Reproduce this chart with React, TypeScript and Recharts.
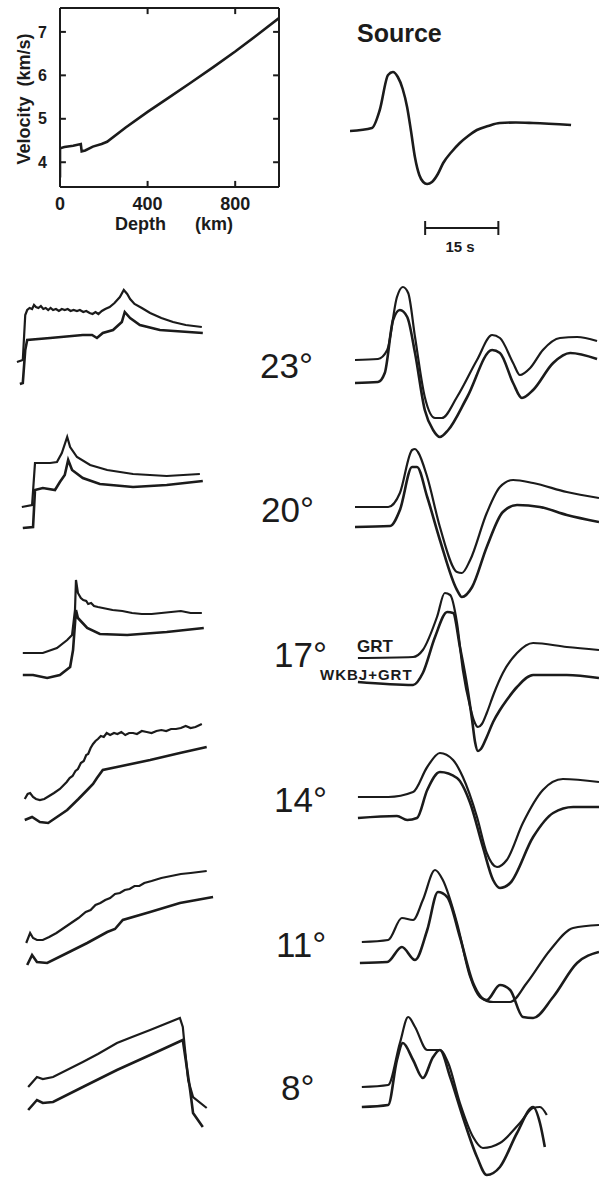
import { LineChart, Line, XAxis, YAxis, ReferenceLine } from 'recharts';

type Pt = [number, number];

const INK = '#1b1b1b';
const FONT = '"Liberation Sans", Arial, sans-serif';

// velocity model: depth (km) / velocity (km/s)
const depthKm = [0, 0, 20, 60, 95, 99, 115, 150, 190, 215, 300, 400, 500, 600, 700, 800, 900, 1000];
const velocityKms = [3.65, 4.32, 4.35, 4.38, 4.42, 4.25, 4.27, 4.36, 4.42, 4.47, 4.8, 5.16, 5.5, 5.84, 6.19, 6.55, 6.93, 7.32];
const depthTicks = [0, 400, 800];
const velocityTicks = [4, 5, 6, 7];
const DEPTH_MAX = 1000;
const VEL_MIN = 3.43;
const VEL_MAX = 7.55;

// source wavelet: time (s) / amplitude
const sourceWave: Pt[] = [[0, 0], [4.5, 3], [6.1, 21], [7.8, 56], [8.8, 59], [9.8, 54], [10.8, 42], [11.7, 24], [12.5, 0], [13.3, -26], [14.2, -44], [15.0, -51], [15.8, -53], [16.8, -51], [18.0, -43], [19.1, -32], [20.8, -21], [22.5, -12], [24.2, -5], [26.0, 1], [28.3, 5], [30.7, 8], [34, 8.5], [37.5, 8], [45.3, 6]];
const scaleBarSec = [15.4, 30.4];

// left column: responses (GRT above, WKBJ+GRT below)
const resp23Grt: Pt[] = [[0.4, -2], [1.6, 0], [2.1, 45], [2.5, 50], [3.0, 52], [3.5, 51], [3.9, 55], [4.3, 53], [4.8, 52], [5.3, 54], [5.8, 51], [6.3, 52], [6.8, 50], [7.3, 52], [7.8, 50], [8.4, 51], [9.0, 49], [9.6, 51], [10.2, 50], [10.8, 51], [11.4, 49], [12.0, 50], [12.7, 49], [13.3, 50], [14.0, 48], [14.6, 49], [15.3, 47], [15.9, 46], [16.5, 48], [17.1, 46], [17.8, 49], [18.5, 51], [19.4, 53], [20.4, 57], [21.5, 63], [22.3, 70], [23.0, 66], [23.6, 61], [24.5, 56], [26.0, 52], [27.7, 47], [30.0, 42], [32.4, 38], [35.0, 35], [38.3, 33]];
const resp23Wkbj: Pt[] = [[1.0, -24], [1.6, -23], [2.1, 10], [2.5, 20], [7.2, 22], [13.9, 25], [15.8, 25], [16.8, 22], [18.0, 27], [20.1, 30], [21.9, 38], [22.5, 48], [23.6, 42], [25.6, 35], [29.7, 30], [38.5, 27]];
const resp20Grt: Pt[] = [[1.4, 0], [3.5, 2], [4.1, 44], [7.2, 44], [8.6, 45], [9.6, 54], [10.7, 70], [11.3, 60], [12.7, 50], [15.4, 42], [18.9, 37], [24.2, 33], [31.1, 31], [37.9, 33]];
const resp20Wkbj: Pt[] = [[1.6, -21], [3.7, -20], [4.1, 17], [5.7, 19], [8.2, 17], [9.2, 25], [10.2, 32], [10.9, 47], [11.7, 37], [13.9, 29], [17.4, 23], [24.2, 20], [31.1, 22], [38.5, 26]];
const resp17Grt: Pt[] = [[1.6, 0], [5.7, 0], [8.6, 5], [10.7, 13], [11.7, 18], [12.3, 43], [12.5, 73], [12.9, 60], [13.5, 55], [14.0, 53], [14.6, 52], [15.0, 49], [15.6, 50], [16.2, 47], [17, 46], [18, 45], [19, 44], [20, 43], [22, 42], [24, 40], [26, 39], [28, 39], [30, 40], [32, 41], [34, 42], [36, 40], [38.3, 40]];
const resp17Wkbj: Pt[] = [[1.6, -22], [3.7, -22], [6.6, -25], [9.2, -22], [11.3, -14], [11.9, 3], [12.5, 43], [12.9, 35], [14.8, 25], [17.4, 19], [23.0, 18], [31.1, 21], [38.7, 25]];
const resp14Grt: Pt[] = [[2.0, 0], [2.6, 5], [3.1, 6], [3.7, 2], [4.3, 0], [5.1, -1], [6.0, 0], [7.0, 3], [8.0, 6], [9.2, 10], [10.0, 14], [10.6, 17], [11.2, 21], [11.8, 23], [12.4, 28], [12.9, 30], [13.5, 36], [14.1, 38], [14.6, 44], [15.0, 45], [15.5, 51], [16.0, 55], [16.5, 58], [17.0, 60], [17.6, 63], [18.2, 62], [18.8, 66], [19.5, 64], [20.3, 66], [21.0, 65], [21.8, 67], [22.6, 64], [23.4, 66], [24.2, 66], [25.0, 65], [26.0, 68], [27.0, 67], [28.0, 66], [29.0, 68], [30.0, 69], [31.0, 68], [32.0, 70], [33.0, 70], [34.0, 71], [35.0, 73], [36.0, 71], [37.0, 72], [38.3, 75]];
const resp14Wkbj: Pt[] = [[2.0, -21], [3.5, -18], [5.1, -23], [6.8, -24], [10.7, -11], [13.0, 0], [14.8, 9], [16.0, 15], [16.8, 21], [18.0, 29], [20.9, 32], [27.7, 39], [33.8, 46], [39.3, 52]];
const resp11Grt: Pt[] = [[2.3, 0], [3.1, 10], [3.7, 5], [4.5, 3], [5.7, 3], [7, 6], [8.5, 10], [10, 15], [11.5, 20], [13, 25], [14.5, 31], [15.5, 33], [16.5, 38], [17.5, 40], [18.5, 43], [19.5, 45], [20.5, 49], [21.5, 50], [22.5, 53], [23.5, 54], [24.5, 57], [25.5, 57], [26.5, 60], [28, 62], [30, 65], [32, 67], [34, 69], [36, 70], [39.3, 72]];
const resp11Wkbj: Pt[] = [[2.5, -22], [3.5, -12], [4.5, -19], [6.6, -20], [10.7, -10], [14.8, 0], [18.9, 11], [20.5, 14], [22.1, 23], [27.7, 31], [33.8, 40], [40.6, 46]];
const resp8Grt: Pt[] = [[2.7, 0], [4.5, 10], [5.7, 8], [7.8, 10], [13.9, 25], [17, 33], [20.9, 44], [24, 50], [27.7, 57], [33.8, 69], [34.4, 60], [34.8, 40], [35.5, 7], [36.5, -10], [39.3, -21]];
const resp8Wkbj: Pt[] = [[2.7, -23], [4.5, -13], [5.7, -16], [7.8, -15], [13.9, 0], [20.9, 17], [27.7, 32], [34.4, 47], [35.0, 27], [35.9, -3], [36.5, -26], [38.5, -40]];

// right column: seismograms, time (s) / amplitude
const wave23Grt: Pt[] = [[0, 0], [4.7, 1], [6.6, 10], [8.6, 63], [9.8, 73], [10.9, 67], [12.3, 23], [14.3, -37], [16.4, -58], [17.8, -58], [20.9, -37], [25.0, 0], [28.1, 25], [29.7, 22], [32.4, -3], [33.8, -15], [35.9, -8], [38.5, 10], [42.0, 22], [45.5, 23], [49.6, 19]];
const wave23Wkbj: Pt[] = [[0, -23], [4.7, -22], [6.1, -13], [7.8, 40], [9.2, 50], [10.7, 43], [12.3, 7], [14.3, -50], [16.0, -70], [17.4, -77], [19.1, -70], [23.0, -37], [28.1, 10], [29.7, 7], [32.4, -23], [34.2, -38], [36.5, -30], [40.6, -3], [44.1, 7], [49.6, 1]];
const wave20Grt: Pt[] = [[0, 0], [6.8, 0], [9.2, 14], [11.7, 57], [12.3, 58], [12.9, 55], [14.8, 30], [17.4, -20], [20.9, -65], [21.9, -66], [23.6, -53], [27.0, -6], [29.7, 20], [32.4, 27], [36.5, 24], [43.4, 15], [50.0, 9]];
const wave20Wkbj: Pt[] = [[0, -20], [7.2, -19], [9.2, -3], [11.7, 40], [12.7, 40], [14.8, 10], [17.4, -33], [20.9, -83], [21.9, -90], [24.0, -80], [27.0, -40], [30.3, -5], [33.2, 2], [37.9, 0], [43.4, -8], [50.0, -15]];
const wave17Grt: Pt[] = [[0.6, 0], [11.9, 1], [13.9, 8], [16.8, 41], [18.4, 65], [19.5, 63], [20.9, 35], [22.1, -12], [23.6, -49], [24.4, -63], [25.2, -69], [26.0, -66], [27.0, -55], [28.5, -35], [30.3, -15], [33.2, 5], [36.5, 15], [43.4, 11], [50.0, 8]];
const wave17Wkbj: Pt[] = [[0.6, -24], [11.9, -27], [13.9, -15], [16.4, 21], [18.9, 46], [20.1, 45], [21.5, 11], [23.0, -29], [24.0, -62], [24.6, -84], [25.2, -93], [25.8, -91], [27.0, -79], [28.3, -64], [29.7, -52], [31.1, -42], [33.2, -29], [36.5, -17], [43.4, -17], [50.0, -20]];
const wave14Grt: Pt[] = [[0.6, 0], [6.8, 0], [11.9, 5], [14.8, 30], [17.4, 44], [20.1, 37], [22.1, 20], [25.0, -20], [27.0, -56], [29.1, -70], [31.1, -63], [34.4, -26], [38.5, 7], [42.6, 18], [50.0, 15]];
const wave14Wkbj: Pt[] = [[0.6, -21], [8.6, -19], [10.7, -23], [12.7, -21], [14.8, 7], [17.4, 25], [20.9, 19], [23.6, -6], [26.2, -50], [28.3, -83], [29.7, -91], [31.8, -86], [36.5, -40], [40.6, -16], [44.7, -10], [50.0, -10]];
const wave11Grt: Pt[] = [[1.4, -1], [6.8, 1], [9.6, 23], [11.9, 21], [13.9, 41], [16.4, 71], [18.0, 61], [20.9, 18], [23.6, -36], [25.6, -56], [28.3, -61], [31.8, -61], [35.2, -42], [40.0, -9], [44.7, 13], [50.0, 16]];
const wave11Wkbj: Pt[] = [[1.0, -22], [6.6, -21], [9.6, -6], [12.3, -19], [14.8, 11], [17.0, 49], [18.9, 44], [21.5, 4], [24.2, -42], [27.0, -59], [29.7, -44], [31.8, -49], [34.4, -76], [36.5, -77], [40.6, -56], [45.5, -22], [50.0, -11]];
const wave8Grt: Pt[] = [[1.4, -1], [6.8, 1], [9.2, 43], [10.9, 69], [12.3, 59], [14.8, 36], [17.4, 36], [19.1, 23], [21.5, -17], [24.2, -51], [26.2, -62], [29.7, -57], [33.8, -37], [36.5, -22], [37.9, -21], [39.3, -29]];
const wave8Wkbj: Pt[] = [[1.4, -21], [6.8, -19], [8.6, 26], [9.8, 43], [11.9, 26], [13.9, 8], [16.0, 29], [17.4, 36], [19.5, 9], [22.1, -31], [25.0, -71], [27.0, -89], [29.7, -81], [33.2, -47], [36.5, -21], [37.9, -37], [38.9, -61]];

const degreeLabels = ['23°', '20°', '17°', '14°', '11°', '8°'];

// layout of each row (page pixels)
const rowLayout = [
  { leftRef: 360, rightRef: 360, labelX: 260, labelY: 378, resp: [resp23Grt, resp23Wkbj], wave: [wave23Grt, wave23Wkbj] },
  { leftRef: 507, rightRef: 507, labelX: 261, labelY: 522, resp: [resp20Grt, resp20Wkbj], wave: [wave20Grt, wave20Wkbj] },
  { leftRef: 653, rightRef: 658, labelX: 274, labelY: 667, resp: [resp17Grt, resp17Wkbj], wave: [wave17Grt, wave17Wkbj] },
  { leftRef: 799, rightRef: 797, labelX: 274, labelY: 812, resp: [resp14Grt, resp14Wkbj], wave: [wave14Grt, wave14Wkbj] },
  { leftRef: 943, rightRef: 941, labelX: 276, labelY: 957, resp: [resp11Grt, resp11Wkbj], wave: [wave11Grt, wave11Wkbj] },
  { leftRef: 1087, rightRef: 1086, labelX: 281, labelY: 1100, resp: [resp8Grt, resp8Wkbj], wave: [wave8Grt, wave8Wkbj] },
];

const toPts = (p: Pt[]) => p.map(([t, a]) => ({ t, a }));

const Y_TOP = 95;
const Y_BOT = -125;

function TracePanel(props: {
  left: number
  top: number
  width: number
  xMax: number
  traces: Pt[][]
  curve: 'linear' | 'monotone'
}) {
  const { left, top, width, xMax, traces, curve } = props;
  return (
    <div style={{ position: 'absolute', left, top }}>
      <LineChart width={width} height={Y_TOP - Y_BOT} margin={{ top: 0, right: 0, bottom: 0, left: 0 }}>
        <XAxis type="number" dataKey="t" domain={[0, xMax]} hide allowDataOverflow />
        <YAxis type="number" domain={[Y_BOT, Y_TOP]} hide allowDataOverflow />
        {traces.map((tr, i) => (
          <Line
            key={i}
            data={toPts(tr)}
            dataKey="a"
            type={curve}
            stroke={INK}
            strokeWidth={i === 0 ? 2.2 : 2.6}
            dot={false}
            isAnimationActive={false}
          />
        ))}
      </LineChart>
    </div>
  );
}

// inward tick length in data units (about 6 px)
const X_TICK = 27;
const Y_TICK = 0.14;

export default function App() {
  const velData = depthKm.map((d, i) => ({ d, v: velocityKms[i] }));
  const srcData = toPts(sourceWave);

  return (
    <div style={{ position: 'absolute', left: 0, top: 0, width: 599, height: 1180, background: '#fff', fontFamily: FONT, overflow: 'hidden' }}>
      {/* velocity model */}
      <div style={{ position: 'absolute', left: 0, top: 0 }}>
        <LineChart width={290} height={240} data={velData} margin={{ top: 8, right: 11, bottom: 11, left: 20 }}>
          <XAxis dataKey="d" type="number" domain={[0, DEPTH_MAX]} ticks={depthTicks} allowDataOverflow
            height={42} tickLine={false} tickSize={0} tickMargin={10} stroke={INK} strokeWidth={2}
            tick={{ fill: INK, fontSize: 18, fontWeight: 700 }} />
          <YAxis type="number" domain={[VEL_MIN, VEL_MAX]} ticks={velocityTicks} allowDataOverflow
            width={40} tickLine={false} tickSize={0} tickMargin={13} stroke={INK} strokeWidth={2}
            tick={{ fill: INK, fontSize: 16, fontWeight: 700 }} />
          <ReferenceLine y={VEL_MAX} stroke={INK} strokeWidth={2} />
          <ReferenceLine x={DEPTH_MAX} stroke={INK} strokeWidth={2} />
          {depthTicks.filter((d) => d > 0).map((d) => (
            <ReferenceLine key={'b' + d} segment={[{ x: d, y: VEL_MIN }, { x: d, y: VEL_MIN + Y_TICK }]} stroke={INK} strokeWidth={2} />
          ))}
          {depthTicks.filter((d) => d > 0).map((d) => (
            <ReferenceLine key={'t' + d} segment={[{ x: d, y: VEL_MAX }, { x: d, y: VEL_MAX - Y_TICK }]} stroke={INK} strokeWidth={2} />
          ))}
          {velocityTicks.map((v) => (
            <ReferenceLine key={'l' + v} segment={[{ x: 0, y: v }, { x: X_TICK, y: v }]} stroke={INK} strokeWidth={2} />
          ))}
          {velocityTicks.map((v) => (
            <ReferenceLine key={'r' + v} segment={[{ x: DEPTH_MAX, y: v }, { x: DEPTH_MAX - X_TICK, y: v }]} stroke={INK} strokeWidth={2} />
          ))}
          <Line dataKey="v" type="linear" stroke={INK} strokeWidth={2.6} dot={false} isAnimationActive={false} />
        </LineChart>
      </div>

      {/* source wavelet with 15 s scale bar */}
      <div style={{ position: 'absolute', left: 350, top: 131 - Y_TOP }}>
        <LineChart width={244} height={205} data={srcData} margin={{ top: 0, right: 0, bottom: 0, left: 0 }}>
          <XAxis type="number" dataKey="t" domain={[0, 50]} hide allowDataOverflow />
          <YAxis type="number" domain={[-110, Y_TOP]} hide allowDataOverflow />
          <Line dataKey="a" type="monotone" stroke={INK} strokeWidth={2.6} dot={false} isAnimationActive={false} />
          <ReferenceLine segment={[{ x: scaleBarSec[0], y: -97 }, { x: scaleBarSec[1], y: -97 }]} stroke={INK} strokeWidth={2} />
          <ReferenceLine segment={[{ x: scaleBarSec[0], y: -90 }, { x: scaleBarSec[0], y: -104 }]} stroke={INK} strokeWidth={2} />
          <ReferenceLine segment={[{ x: scaleBarSec[1], y: -90 }, { x: scaleBarSec[1], y: -104 }]} stroke={INK} strokeWidth={2} />
        </LineChart>
      </div>

      {rowLayout.map((row, i) => (
        <TracePanel key={'l' + i} left={15} top={row.leftRef - Y_TOP} width={200} xMax={41} traces={row.resp} curve="linear" />
      ))}
      {rowLayout.map((row, i) => (
        <TracePanel key={'r' + i} left={355} top={row.rightRef - Y_TOP} width={244} xMax={50} traces={row.wave} curve="monotone" />
      ))}

      <svg width={599} height={1180} style={{ position: 'absolute', left: 0, top: 0, pointerEvents: 'none' }}>
        <text x={30} y={99} transform="rotate(-90 30 99)" textAnchor="middle" fontSize={18} fontWeight={700} fill={INK}>
          {'Velocity\u00a0\u00a0(km/s)'}
        </text>
        <text x={115} y={230} fontSize={18} fontWeight={700} fill={INK}>Depth</text>
        <text x={195} y={230} fontSize={18} fontWeight={700} fill={INK}>(km)</text>
        <text x={357} y={42} fontSize={25} fontWeight={700} fill={INK}>Source</text>
        <text x={460} y={252} textAnchor="middle" fontSize={15} fontWeight={700} fill={INK}>15 s</text>
        {rowLayout.map((row, i) => (
          <text key={i} x={row.labelX} y={row.labelY} fontSize={35} fill={INK}>{degreeLabels[i]}</text>
        ))}
        <text x={357} y={652} fontSize={17} fontWeight={700} fill={INK}>GRT</text>
        <text x={320} y={680} fontSize={15} fontWeight={700} letterSpacing={1} fill={INK}>WKBJ+GRT</text>
      </svg>
    </div>
  );
}
